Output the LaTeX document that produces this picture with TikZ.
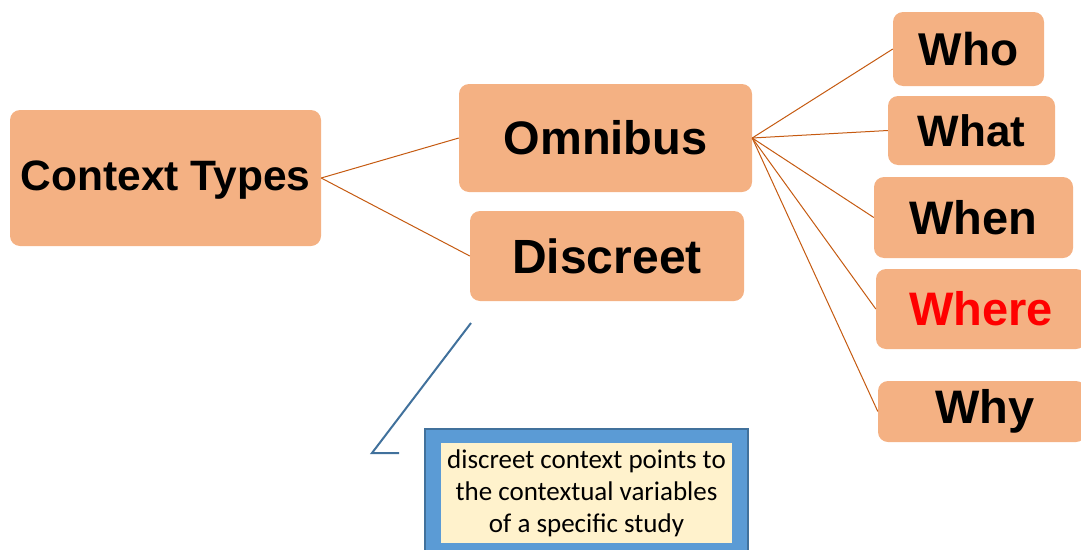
\documentclass[tikz,border=0pt]{standalone}
\usepackage{fontspec}
\setmainfont{Liberation Sans}
\newfontfamily\calloutfont{Carlito}
\definecolor{boxfill}{HTML}{F4B183}
\definecolor{linkc}{HTML}{C55A11}
\definecolor{bluefill}{HTML}{5B9BD5}
\definecolor{blueedge}{HTML}{41719C}
\definecolor{creamfill}{HTML}{FFF2CC}
\begin{document}
\begin{tikzpicture}[x=1pt,y=-1pt,
  box/.style={fill=boxfill, draw=none, rounded corners=10pt, inner sep=0pt, font=\bfseries},
  link/.style={draw=linkc, line width=1pt},
  pointer/.style={draw=blueedge, line width=2pt}]
\useasboundingbox (0,0) rectangle (1081,549);
\clip (0,0) rectangle (1081,549);
% main nodes
\node[box, minimum width=311pt, minimum height=136pt] (ct) at (165.5,178) {};
\node[font=\bfseries\fontsize{42.5}{46}\selectfont, inner sep=0pt] (ctl) at (165.5,180) {Context Types};
\node[box, minimum width=293pt, minimum height=108pt, font=\bfseries\fontsize{47}{50}\selectfont] (om) at (605.5,138) {Omnibus};
\node[box, minimum width=274pt, minimum height=90pt, font=\bfseries\fontsize{48}{50}\selectfont] (di) at (607,256) {Discreet};
% right column
\node[box, minimum width=151pt, minimum height=74pt, font=\bfseries\fontsize{46}{48}\selectfont] (who) at (968.5,49) {Who};
\node[box, minimum width=167pt, minimum height=69pt, font=\bfseries\fontsize{44}{46}\selectfont] (what) at (971.5,130.5) {What};
\node[box, minimum width=199pt, minimum height=81pt, font=\bfseries\fontsize{47}{50}\selectfont] (when) at (973.5,217.5) {When};
\node[box, minimum width=210pt, minimum height=80pt, font=\bfseries\fontsize{47}{50}\selectfont, text=red] (where) at (981,309) {Where};
\node[box, minimum width=208pt, minimum height=61pt] (why) at (982,411.5) {};
\node[font=\bfseries\fontsize{47}{50}\selectfont, inner sep=0pt] (whyl) at (985,411.5) {Why};
% connectors
\draw[link] (ct.east) -- (om.west);
\draw[link] (ct.east) -- (di.west);
\foreach \t in {who,what,when,where,why}
  \draw[link] (om.east) -- (\t.west);
% callout
\node[fill=bluefill, draw=blueedge, line width=1.5pt, minimum width=323pt, minimum height=126pt, inner sep=0pt] (cbox) at (586.5,492) {};
\node[fill=creamfill, draw=none, minimum width=291pt, minimum height=100pt, inner sep=0pt, align=center,
  font=\calloutfont\fontsize{27}{32}\selectfont] (ctext) at (586.5,493) {discreet context points to\\the contextual variables\\of a specific study};
\coordinate (p1) at (471,323);
\coordinate (p2) at (372,453);
\coordinate (p3) at (399,453);
\draw[pointer] (p1) -- (p2) -- (p3);
\end{tikzpicture}
\end{document}
